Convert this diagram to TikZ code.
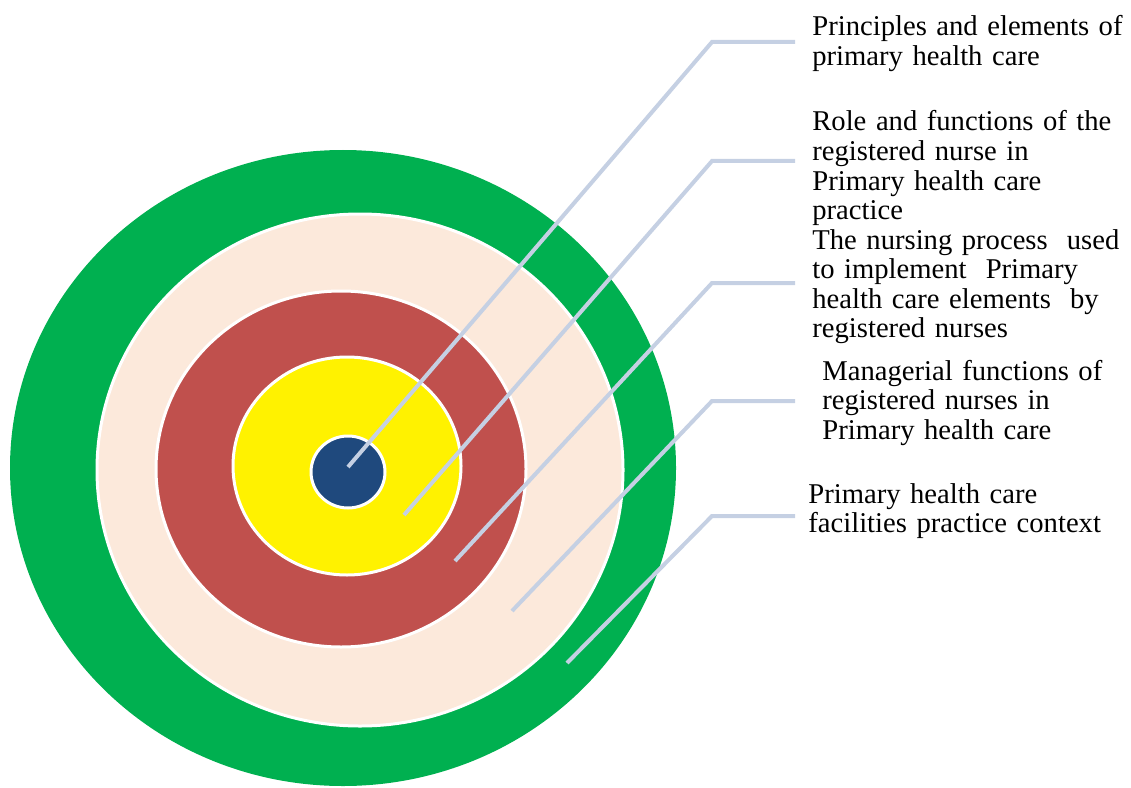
\documentclass[tikz,border=0pt]{standalone}
\usepackage{fontspec}
\setmainfont{Liberation Serif}
\definecolor{outergreen}{HTML}{00B050}
\definecolor{peach}{HTML}{FCE9DB}
\definecolor{ringred}{HTML}{C0504D}
\definecolor{bullblue}{HTML}{1F497D}
\definecolor{leader}{HTML}{C5D0E3}
\tikzset{
  ring/.style={draw=white, line width=0.06cm},
  lead/.style={draw=leader, line width=0.08cm},
  lbl/.style={anchor=base west, inner sep=0pt, text width=7cm, align=left,
    font=\fontsize{16.3}{16.8}\selectfont}
}

\begin{document}
\begin{tikzpicture}[x=0.02cm, y=-0.02cm]
\useasboundingbox (0,0) rectangle (1131,787);
% target rings
\fill[outergreen] (343,468) ellipse [x radius=333, y radius=318];
\path[ring, fill=peach] (360,470) ellipse [x radius=263, y radius=256];
\path[ring, fill=ringred] (341,469) ellipse [x radius=185, y radius=178];
\path[ring, fill=yellow] (347,466) ellipse [x radius=114, y radius=109];
\path[ring, fill=bullblue] (348,472) ellipse [x radius=37, y radius=36];

% labels
\node[lbl] (prin) at (812,36) {Principles and elements of\\primary health care};
\node[lbl] (role) at (812,131) {Role and functions of the\\registered nurse in\\Primary health care\\practice};
\node[lbl] (proc) at (812,249) {The nursing process~ used\\to implement~ Primary\\health care elements~ by\\registered nurses};
\node[lbl] (mgmt) at (822,380) {Managerial functions of\\registered nurses in\\Primary health care};
\node[lbl] (ctx) at (808,503) {Primary health care\\facilities practice context};

% leader lines
\coordinate (t1) at (348,467); \coordinate (b1) at (712,42);  \coordinate (e1) at (795,42);
\coordinate (t2) at (404,515); \coordinate (b2) at (712,161); \coordinate (e2) at (795,161);
\coordinate (t3) at (455,561); \coordinate (b3) at (712,283); \coordinate (e3) at (795,283);
\coordinate (t4) at (512,611); \coordinate (b4) at (712,401); \coordinate (e4) at (795,401);
\coordinate (t5) at (567,663); \coordinate (b5) at (712,516); \coordinate (e5) at (795,516);
\draw[lead] (t1) -- (b1) -- (e1);
\draw[lead] (t2) -- (b2) -- (e2);
\draw[lead] (t3) -- (b3) -- (e3);
\draw[lead] (t4) -- (b4) -- (e4);
\draw[lead] (t5) -- (b5) -- (e5);
\end{tikzpicture}
\end{document}
